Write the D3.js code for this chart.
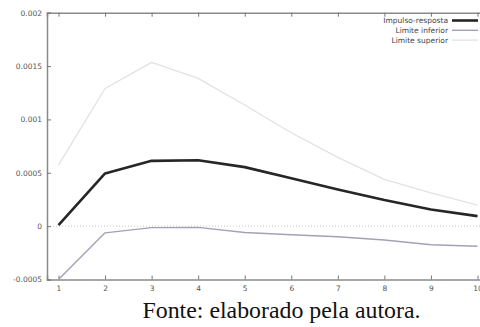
<!DOCTYPE html>
<html>
<head>
<meta charset="utf-8">
<script src="https://cdn.jsdelivr.net/npm/d3@7"></script>
<style>
  body { margin: 0; background: #fff; }
  svg { display: block; }
  .tick text { font-family: "DejaVu Sans", sans-serif; font-size: 7.5px; fill: #555; }
  .legend text { font-family: "DejaVu Sans", sans-serif; font-size: 7.5px; fill: #444; }
</style>
</head>
<body>
<svg width="480" height="327"></svg>
<script>
// periods (horizon)
var periods = [1, 2, 3, 4, 5, 6, 7, 8, 9, 10];
// impulse response and confidence bounds
var impulso = [0.00001, 0.000494, 0.000612, 0.000617, 0.000553, 0.000448, 0.000344, 0.000244, 0.000156, 0.000094];
var inferior = [-0.0005, -0.000063, -0.000014, -0.000012, -0.00006, -0.00008, -0.0001, -0.00013, -0.000175, -0.000188];
var superior = [0.000572, 0.00129, 0.001535, 0.001385, 0.001135, 0.000875, 0.000644, 0.000438, 0.000312, 0.000197];
var yTicks = [-0.0005, 0, 0.0005, 0.001, 0.0015, 0.002];
var yTickLabels = ["-0.0005", "0", "0.0005", "0.001", "0.0015", "0.002"];

var svg = d3.select("svg");

var plotLeft = 47, plotRight = 489, plotTop = 12.7, plotBottom = 279.5;

var x = d3.scaleLinear().domain([0.753, 10.247]).range([plotLeft, plotRight]);
var y = d3.scaleLinear().domain([-0.0005, 0.002]).range([plotBottom, plotTop]);

// zero line
svg.append("line")
    .attr("x1", plotLeft).attr("x2", plotRight)
    .attr("y1", y(0)).attr("y2", y(0))
    .attr("stroke", "#c8c8c8")
    .attr("stroke-width", 1)
    .attr("stroke-dasharray", "1,2");

// axes (ticks inward, mirrored on top)
var xAxis = svg.append("g")
    .attr("transform", "translate(0," + plotBottom + ")")
    .call(d3.axisBottom(x).tickValues(periods).tickSize(-4).tickPadding(8).tickFormat(d3.format("d")));

var xTop = svg.append("g")
    .attr("transform", "translate(0," + plotTop + ")")
    .call(d3.axisTop(x).tickValues(periods).tickSize(-4).tickFormat(""));

var yAxis = svg.append("g")
    .attr("transform", "translate(" + plotLeft + ",0)")
    .call(d3.axisLeft(y).tickValues(yTicks).tickSize(-4).tickPadding(5)
        .tickFormat(function(d, i) { return yTickLabels[i]; }));

[xAxis, xTop, yAxis].forEach(function(g) {
    g.select(".domain").attr("stroke", "#8a8a8a").attr("stroke-width", 1.5);
    g.selectAll(".tick line").attr("stroke", "#777").attr("stroke-width", 1);
});
xAxis.selectAll(".tick text").attr("dy", "0.5em");

// lines
var line = d3.line()
    .x(function(d, i) { return x(periods[i]); })
    .y(function(d) { return y(d); });

var series = [
    { name: "Limite superior", values: superior, color: "#e2e2e2", width: 1.3 },
    { name: "Limite inferior", values: inferior, color: "#a3a1b6", width: 1.4 },
    { name: "Impulso-resposta", values: impulso, color: "#262626", width: 2.6 }
];

svg.selectAll("path.serie")
    .data(series)
    .enter()
    .append("path")
        .attr("class", "serie")
        .attr("d", function(d) { return line(d.values); })
        .attr("fill", "none")
        .attr("stroke", function(d) { return d.color; })
        .attr("stroke-width", function(d) { return d.width; })
        .attr("stroke-linejoin", "round");

// legend
var legend = svg.append("g").attr("class", "legend");
var legendItems = series.slice().reverse();

legendItems.forEach(function(s, i) {
    var ly = 20.5 + i * 9.8;
    legend.append("text")
        .attr("x", 448)
        .attr("y", ly)
        .attr("dy", "0.35em")
        .attr("text-anchor", "end")
        .text(s.name);
    legend.append("line")
        .attr("x1", 452).attr("x2", 478)
        .attr("y1", ly).attr("y2", ly)
        .attr("stroke", s.color)
        .attr("stroke-width", s.width);
});

// caption
svg.append("text")
    .attr("x", 142.5)
    .attr("y", 318)
    .attr("font-family", "'Liberation Serif', 'Times New Roman', serif")
    .attr("font-size", 22.5)
    .attr("fill", "#111")
    .attr("textLength", 278)
    .attr("lengthAdjust", "spacingAndGlyphs")
    .text("Fonte: elaborado pela autora.");
</script>
</body>
</html>
